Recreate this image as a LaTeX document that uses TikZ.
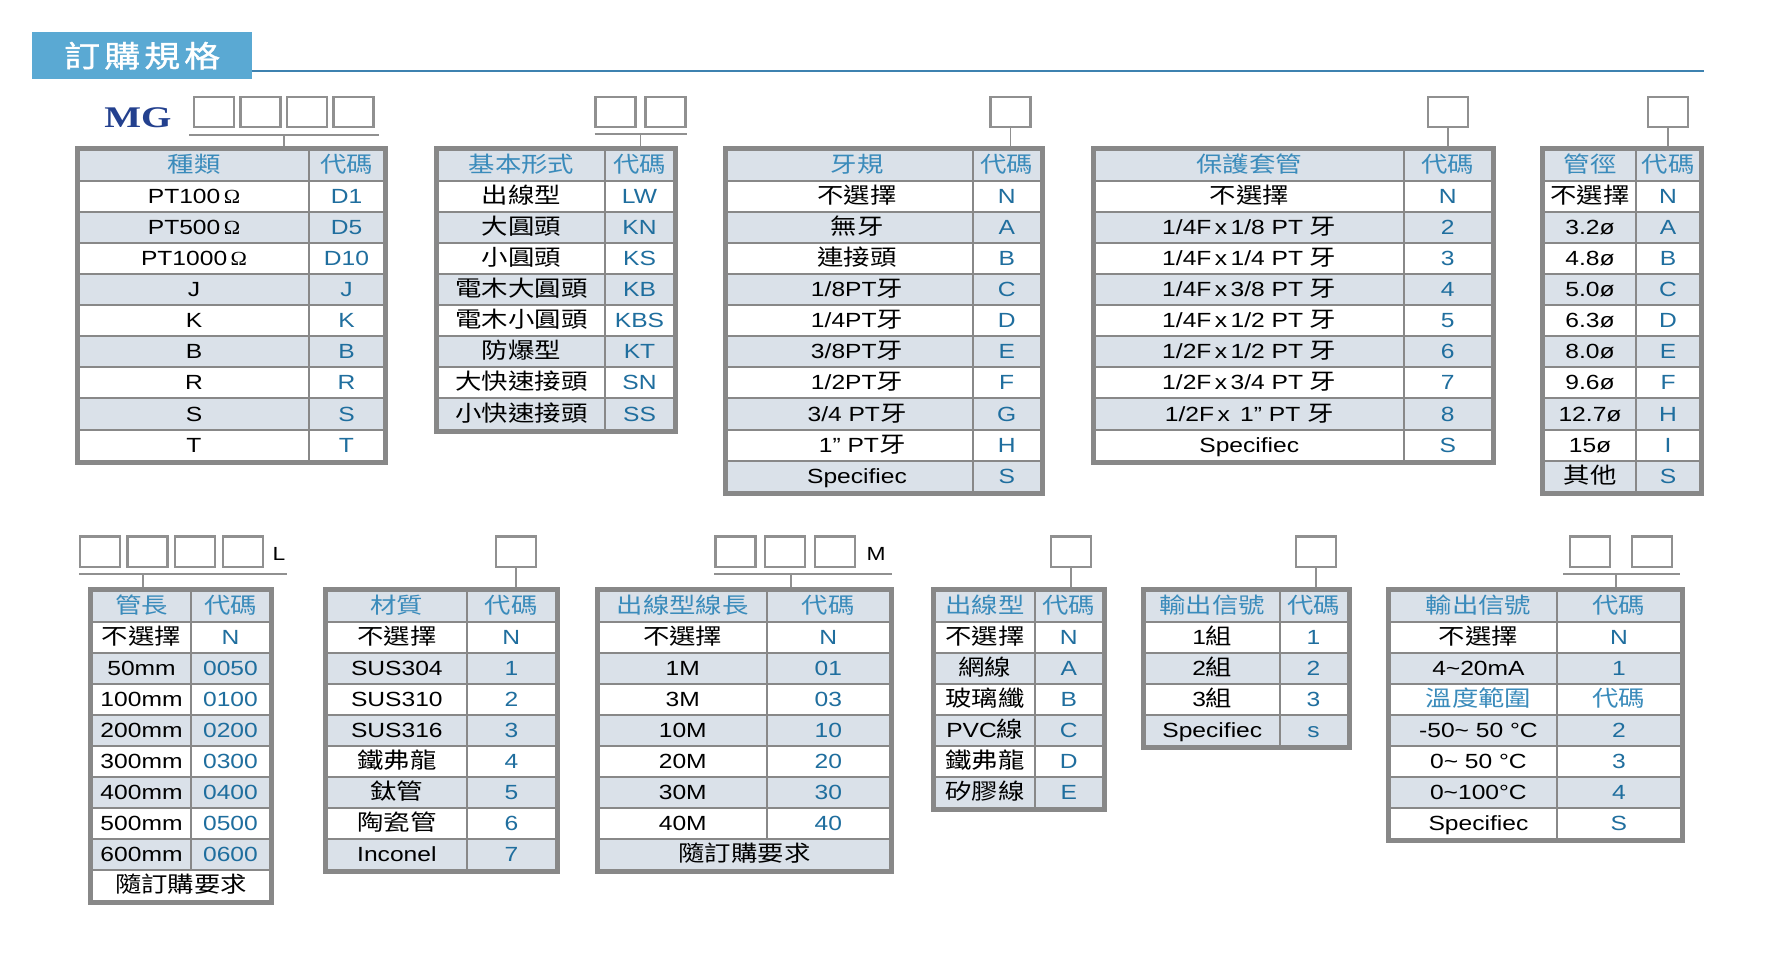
\documentclass[tikz,border=0pt]{standalone}
\usepackage{fontspec}
\setmainfont{Liberation Sans}[FakeStretch=1.2]
\newfontfamily\cjkf{Noto Sans CJK TC}[FakeStretch=1.2]
\newfontfamily\ttlf{Noto Sans CJK TC}[FakeStretch=1.2, FakeBold=1.2]
\newfontfamily\omf{Liberation Serif}[FakeStretch=1.1]
\newfontfamily\mgf{Liberation Serif}[FakeStretch=1.3]
\definecolor{titleblue}{HTML}{5AA9D3}
\definecolor{titleline}{HTML}{3E82B0}
\definecolor{framegray}{HTML}{888888}
\definecolor{shade}{HTML}{DAE1E9}
\definecolor{boxgray}{HTML}{909090}
\definecolor{headblue}{HTML}{3A8BBB}
\definecolor{codeblue}{HTML}{1F6E9E}
\definecolor{mgblue}{HTML}{23408E}
\newcommand\C[1]{{\cjkf\fontsize{22}{26}\selectfont #1}}
\newcommand\Om{{\omf\fontsize{20}{24}\selectfont Ω}}
\newcommand\tl{\textasciitilde}
\def\lshift{0}
\newcommand\settab[5]{\def\tn{#1}\def\tx{#2}\def\ty{#3}\def\td{#4}\def\te{#5}}
\newcommand\tabframe[1]{%
  \pgfmathsetmacro\tabW{\te-\tx}%
  \pgfmathsetmacro\tabH{31*#1+8}%
  \node[frame, minimum width=\tabW pt, minimum height=\tabH pt, anchor=north west] (\tn) at (\tx,\ty) {};}
\newcommand\rowgeom[1]{%
  \ifodd#1\relax\def\rf{white}\else\def\rf{shade}\fi
  \pgfmathsetmacro\rowT{\ty+5+31*#1}%
  \pgfmathsetmacro\rowB{\rowT+29}%
  \pgfmathsetmacro\rowC{\rowT+21.5}%
  \pgfmathsetmacro\xL{(\tx+\td+4)/2+\lshift}%
  \pgfmathsetmacro\xR{(\td+\te-4)/2}%
  \pgfmathsetmacro\xM{(\tx+\te)/2}}
\newcommand\trowgen[5]{%
  \rowgeom{#1}%
  \fill[fill=\rf] (\tx+5,\rowT) rectangle (\td-1,\rowB);
  \fill[fill=\rf] (\td+1,\rowT) rectangle (\te-5,\rowB);
  \node[#2,anchor=base] (\tn-#1L) at (\xL,\rowC) {#4};
  \node[#3,anchor=base] (\tn-#1R) at (\xR,\rowC) {#5};}
\newcommand\trow[3]{\trowgen{#1}{cellL}{cellR}{#2}{#3}}
\newcommand\throw[3]{\trowgen{#1}{cellH}{cellH}{#2}{#3}}
\newcommand\tmrow[2]{\rowgeom{#1}%
  \fill[fill=\rf] (\tx+5,\rowT) rectangle (\te-5,\rowB);
  \node[cellL,anchor=base] (\tn-#1M) at (\xM,\rowC) {#2};}
\begin{document}
\begin{tikzpicture}[x=1pt,y=-1pt,
  frame/.style={fill=framegray, draw=none, inner sep=0pt, outer sep=0pt},
  cellL/.style={text=black, inner sep=0pt, font=\fontsize{20.5}{24}\selectfont},
  cellR/.style={text=codeblue, inner sep=0pt, font=\fontsize{20.5}{24}\selectfont},
  cellH/.style={text=headblue, inner sep=0pt, font=\fontsize{20.5}{24}\selectfont},
  sel/.style={draw=boxgray, line width=2.2pt, fill=white, minimum width=40pt, minimum height=30.5pt, inner sep=0pt},
  uline/.style={draw=boxgray, line width=2pt},
  tick/.style={draw=boxgray, line width=1.8pt},
  suffix/.style={inner sep=0pt, font=\fontsize{19}{22}\selectfont, text=black},
]
\useasboundingbox (0,0) rectangle (1767,957);
\fill[white] (0,0) rectangle (1767,957);
% title
\node[fill=titleblue, minimum width=220pt, minimum height=47pt, inner sep=0pt, anchor=north west,
  text=white, font={\ttlf\fontsize{30}{32}\selectfont}] (ttl) at (32,32) {訂\hspace{4pt}購\hspace{4pt}規\hspace{4pt}格};
\coordinate (tl1) at (252,71); \coordinate (tl2) at (1704,71);
\draw[titleline, line width=1.5pt] (tl1) -- (tl2);

% ---------- T1
\settab{T1}{75}{146.5}{309}{388}\tabframe{10}
\throw{0}{\C{種類}}{\C{代碼}}
\trow{1}{PT100\,\Om}{D1}
\trow{2}{PT500\,\Om}{D5}
\trow{3}{PT1000\,\Om}{D10}
\trow{4}{J}{J}
\trow{5}{K}{K}
\trow{6}{B}{B}
\trow{7}{R}{R}
\trow{8}{S}{S}
\trow{9}{T}{T}
% ---------- T2
\settab{T2}{434}{146.5}{605}{678}\tabframe{9}
\throw{0}{\C{基本形式}}{\C{代碼}}
\trow{1}{\C{出線型}}{LW}
\trow{2}{\C{大圓頭}}{KN}
\trow{3}{\C{小圓頭}}{KS}
\trow{4}{\C{電木大圓頭}}{KB}
\trow{5}{\C{電木小圓頭}}{KBS}
\trow{6}{\C{防爆型}}{KT}
\trow{7}{\C{大快速接頭}}{SN}
\trow{8}{\C{小快速接頭}}{SS}
% ---------- T3
\def\lshift{7}
\settab{T3}{723}{146.5}{973}{1044.5}\tabframe{11}
\throw{0}{\C{牙規}}{\C{代碼}}
\trow{1}{\C{不選擇}}{N}
\trow{2}{\C{無牙}}{A}
\trow{3}{\C{連接頭}}{B}
\trow{4}{1/8PT\C{牙}}{C}
\trow{5}{1/4PT\C{牙}}{D}
\trow{6}{3/8PT\C{牙}}{E}
\trow{7}{1/2PT\C{牙}}{F}
\trow{8}{3/4 PT\C{牙}}{G}
\trow{9}{\enspace1” PT\C{牙}}{H}
\trow{10}{Specifiec}{S}
\def\lshift{0}
% ---------- T4
\settab{T4}{1091}{146.5}{1403.5}{1496}\tabframe{10}
\throw{0}{\C{保護套管}}{\C{代碼}}
\trow{1}{\C{不選擇}}{N}
\trow{2}{1/4F\,x\,1/8 PT \C{牙}}{2}
\trow{3}{1/4F\,x\,1/4 PT \C{牙}}{3}
\trow{4}{1/4F\,x\,3/8 PT \C{牙}}{4}
\trow{5}{1/4F\,x\,1/2 PT \C{牙}}{5}
\trow{6}{1/2F\,x\,1/2 PT \C{牙}}{6}
\trow{7}{1/2F\,x\,3/4 PT \C{牙}}{7}
\trow{8}{1/2F\,x\enspace 1” PT \C{牙}}{8}
\trow{9}{Specifiec}{S}
% ---------- T5
\settab{T5}{1540}{146.5}{1636}{1704}\tabframe{11}
\throw{0}{\C{管徑}}{\C{代碼}}
\trow{1}{\C{不選擇}}{N}
\trow{2}{3.2ø}{A}
\trow{3}{4.8ø}{B}
\trow{4}{5.0ø}{C}
\trow{5}{6.3ø}{D}
\trow{6}{8.0ø}{E}
\trow{7}{9.6ø}{F}
\trow{8}{12.7ø}{H}
\trow{9}{15ø}{I}
\trow{10}{\C{其他}}{S}
% ---------- T6
\settab{T6}{88}{587}{191}{274}\tabframe{10}
\throw{0}{\C{管長}}{\C{代碼}}
\trow{1}{\C{不選擇}}{N}
\trow{2}{50mm}{0050}
\trow{3}{100mm}{0100}
\trow{4}{200mm}{0200}
\trow{5}{300mm}{0300}
\trow{6}{400mm}{0400}
\trow{7}{500mm}{0500}
\trow{8}{600mm}{0600}
\tmrow{9}{\C{隨訂購要求}}
% ---------- T7
\settab{T7}{323}{587}{466.7}{560}\tabframe{9}
\throw{0}{\C{材質}}{\C{代碼}}
\trow{1}{\C{不選擇}}{N}
\trow{2}{SUS304}{1}
\trow{3}{SUS310}{2}
\trow{4}{SUS316}{3}
\trow{5}{\C{鐵弗龍}}{4}
\trow{6}{\C{鈦管}}{5}
\trow{7}{\C{陶瓷管}}{6}
\trow{8}{Inconel}{7}
% ---------- T8
\settab{T8}{595}{587}{766.5}{894}\tabframe{9}
\throw{0}{\C{出線型線長}}{\C{代碼}}
\trow{1}{\C{不選擇}}{N}
\trow{2}{1M}{01}
\trow{3}{3M}{03}
\trow{4}{10M}{10}
\trow{5}{20M}{20}
\trow{6}{30M}{30}
\trow{7}{40M}{40}
\tmrow{8}{\C{隨訂購要求}}
% ---------- T9
\settab{T9}{931}{587}{1034.6}{1107}\tabframe{7}
\throw{0}{\C{出線型}}{\C{代碼}}
\trow{1}{\C{不選擇}}{N}
\trow{2}{\C{網線}}{A}
\trow{3}{\C{玻璃纖}}{B}
\trow{4}{PVC\C{線}}{C}
\trow{5}{\C{鐵弗龍}}{D}
\trow{6}{\C{矽膠線}}{E}
% ---------- T10
\settab{T10}{1141}{587}{1279.6}{1351.5}\tabframe{5}
\throw{0}{\C{輸出信號}}{\C{代碼}}
\trow{1}{1\C{組}}{1}
\trow{2}{2\C{組}}{2}
\trow{3}{3\C{組}}{3}
\trow{4}{Specifiec}{s}
% ---------- T11
\def\lshift{5}
\settab{T11}{1386}{587}{1556.8}{1685}\tabframe{8}
\throw{0}{\C{輸出信號}}{\C{代碼}}
\trow{1}{\C{不選擇}}{N}
\trow{2}{4\tl20mA}{1}
\throw{3}{\C{溫度範圍}}{\C{代碼}}
\trow{4}{-50\tl{} 50 °C}{2}
\trow{5}{0\tl{} 50 °C}{3}
\trow{6}{0\tl100°C}{4}
\trow{7}{Specifiec}{S}
\def\lshift{0}

% ---------- upper selectors
\node[anchor=base, inner sep=0pt, text=mgblue, font={\mgf\bfseries\fontsize{30}{34}\selectfont}] (mg) at (138,128) {MG};
\node[sel] (m1) at (214,112) {};
\node[sel] (m2) at (260.5,112) {};
\node[sel] (m3) at (307,112) {};
\node[sel] (m4) at (353.5,112) {};
\coordinate (u1a) at (189,135); \coordinate (u1b) at (379,135);
\draw[uline] (u1a) -- (u1b);
\coordinate (k1) at (284,135); \draw[tick] (k1) -- (k1 |- T1.north);

\node[sel] (b2a) at (615.5,112) {};
\node[sel] (b2b) at (665.5,112) {};
\coordinate (u2a) at (594.7,134.5); \coordinate (u2b) at (686.5,134.5);
\draw[uline] (u2a) -- (u2b);
\coordinate (k2) at (640.5,134.5); \draw[tick] (k2) -- (k2 |- T2.north);

\node[sel] (b3) at (1010.4,112) {};
\draw[tick] (b3.south) -- (b3.south |- T3.north);
\node[sel] (b4) at (1448,112) {};
\draw[tick] (b4.south) -- (b4.south |- T4.north);
\node[sel] (b5) at (1668,112) {};
\draw[tick] (b5.south) -- (b5.south |- T5.north);

% ---------- lower selectors
\node[sel] (b6a) at (100,551.7) {};
\node[sel] (b6b) at (147.5,551.7) {};
\node[sel] (b6c) at (195.2,551.7) {};
\node[sel] (b6d) at (243.2,551.7) {};
\node[suffix, anchor=base] (sL) at (279,560.7) {L};
\coordinate (u6a) at (79,574.3); \coordinate (u6b) at (287.3,574.3);
\draw[uline] (u6a) -- (u6b);
\coordinate (k6) at (143.3,574.3); \draw[tick] (k6) -- (k6 |- T6.north);

\node[sel] (b7) at (516,551.7) {};
\draw[tick] (b7.south) -- (b7.south |- T7.north);

\node[sel] (b8a) at (735.4,551.7) {};
\node[sel] (b8b) at (785.3,551.7) {};
\node[sel] (b8c) at (835,551.7) {};
\node[suffix, anchor=base] (sM) at (876,560.7) {M};
\coordinate (u8a) at (714.4,574.3); \coordinate (u8b) at (891.9,574.3);
\draw[uline] (u8a) -- (u8b);
\coordinate (k8) at (791,574.3); \draw[tick] (k8) -- (k8 |- T8.north);

\node[sel] (b9) at (1071,551.7) {};
\draw[tick] (b9.south) -- (b9.south |- T9.north);
\node[sel] (b10) at (1316,551.7) {};
\draw[tick] (b10.south) -- (b10.south |- T10.north);

\node[sel] (b11a) at (1590.3,551.7) {};
\node[sel] (b11b) at (1652.1,551.7) {};
\coordinate (u11a) at (1563,574.3); \coordinate (u11b) at (1680,574.3);
\draw[uline] (u11a) -- (u11b);
\coordinate (k11) at (1615.8,574.3); \draw[tick] (k11) -- (k11 |- T11.north);
\end{tikzpicture}
\end{document}
